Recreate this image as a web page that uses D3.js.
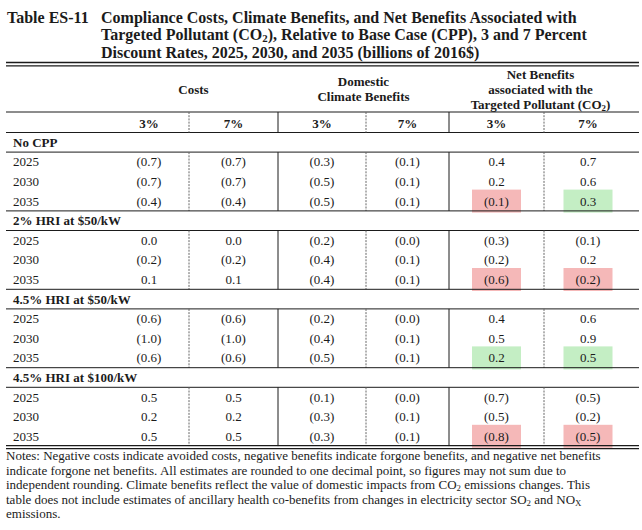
<!DOCTYPE html>
<html><head><meta charset="utf-8">
<script src="https://cdn.jsdelivr.net/npm/d3@7"></script>
<style>
html,body{margin:0;padding:0;background:#fff;}
svg{display:block;}
svg text{font-family:"Liberation Serif","Times New Roman",Times,"DejaVu Serif",serif;}
</style></head>
<body>
<svg id="c" width="642" height="530" font-family="Liberation Serif, Times New Roman, DejaVu Serif, serif"></svg>
<script>
// ---- data ----
const groups = ["No CPP", "2% HRI at $50/kW", "4.5% HRI at $50/kW", "4.5% HRI at $100/kW"];
const years = ["2025", "2030", "2035"];
const rates = ["3%", "7%"];
const costs3 = [[-0.7,-0.7,-0.4],[0.0,-0.2,0.1],[-0.6,-1.0,-0.6],[0.5,0.2,0.5]];
const costs7 = [[-0.7,-0.7,-0.4],[0.0,-0.2,0.1],[-0.6,-1.0,-0.6],[0.5,0.2,0.5]];
const climate3 = [[-0.3,-0.5,-0.5],[-0.2,-0.4,-0.4],[-0.2,-0.4,-0.5],[-0.1,-0.3,-0.3]];
const climate7 = [[-0.1,-0.1,-0.1],[-0.0,-0.1,-0.1],[-0.0,-0.1,-0.1],[-0.0,-0.1,-0.1]];
const net3 = [[0.4,0.2,-0.1],[-0.3,-0.2,-0.6],[0.4,0.5,0.2],[-0.7,-0.5,-0.8]];
const net7 = [[0.7,0.6,0.3],[-0.1,0.2,-0.2],[0.6,0.9,0.5],[-0.5,-0.2,-0.5]];
const highlightYear = "2035";
const titleLabel = "Table ES-11";
const titleLines = [
  [["Compliance Costs, Climate Benefits, and Net Benefits Associated with"]],
  [["Targeted Pollutant (CO"],["2","sub"],["), Relative to Base Case (CPP), 3 and 7 Percent"]],
  [["Discount Rates, 2025, 2030, and 2035 (billions of 2016$)"]]
];
const headerGroups = [
  {lines:[[["Costs"]]], cols:[0,1]},
  {lines:[[["Domestic"]],[["Climate Benefits"]]], cols:[2,3]},
  {lines:[[["Net Benefits"]],[["associated with the"]],[["Targeted Pollutant (CO"],["2","sub"],[")"]]], cols:[4,5]}
];
const notes = [
  [["Notes: Negative costs indicate avoided costs, negative benefits indicate forgone benefits, and negative net benefits"]],
  [["indicate forgone net benefits. All estimates are rounded to one decimal point, so figures may not sum due to"]],
  [["independent rounding. Climate benefits reflect the value of domestic impacts from CO"],["2","sub"],[" emissions changes. This"]],
  [["table does not include estimates of ancillary health co-benefits from changes in electricity sector SO"],["2","sub"],[" and NO"],["X","sub"]],
  [["emissions."]]
];

// ---- layout ----
const svg = d3.select("#c");
const ink = "#1b1b1b";
const L = 6, R = 639;
const colEdges = d3.scaleOrdinal().domain(d3.range(8)).range([L,109,189,278,366,449,544,632]);
const colCenter = i => (colEdges(i+1) + colEdges(i+2)) / 2; // i = data column 0..5
const series = [costs3, costs7, climate3, climate7, net3, net7];

function fmt(v){
  const neg = v < 0 || Object.is(v,-0);
  const s = Math.abs(v).toFixed(1);
  return neg ? "(" + s + ")" : s;
}
function rich(sel, parts, size){
  parts.forEach(p => {
    const t = sel.append("tspan").text(p[0]);
    if (p[1] === "sub") t.attr("font-size", size*0.68).attr("baseline-shift", "-22%");
  });
}
function hline(y, w){
  svg.append("line").attr("x1",L).attr("x2",R).attr("y1",y).attr("y2",y)
    .attr("stroke",ink).attr("stroke-width",w||1);
}

// title
const tSize = 16;
const titleY = d3.scaleLinear().domain([0,1]).range([22.5, 40]);
svg.append("text").attr("x",7).attr("y",titleY(0)).attr("font-size",tSize)
  .attr("font-weight","bold").attr("fill",ink).text(titleLabel);
titleLines.forEach((ln,i) => {
  const t = svg.append("text").attr("x",101).attr("y",titleY(i)).attr("font-size",tSize)
    .attr("font-weight","bold").attr("fill",ink);
  rich(t, ln, tSize);
});
hline(62.5,1.6); hline(65.8,1.2);

// header
const fs = 13;
const headY = d3.scaleLinear().domain([0,1]).range([78.5,93.5]);
headerGroups.forEach(g => {
  const cx = (colEdges(g.cols[0]+1) + colEdges(g.cols[1]+2))/2;
  const n = g.lines.length;
  const off = (3-n)/2;
  g.lines.forEach((ln,i) => {
    const t = svg.append("text").attr("x",cx).attr("y",headY(i+off)).attr("text-anchor","middle")
      .attr("font-size",fs).attr("font-weight","bold").attr("fill",ink);
    rich(t, ln, fs);
  });
});
hline(112);
series.forEach((s,i) => {
  svg.append("text").attr("x",colCenter(i)).attr("y",127.5).attr("text-anchor","middle")
    .attr("font-size",fs).attr("font-weight","bold").attr("fill",ink).text(rates[i%2]);
});
hline(132.5);

const vKinds = ["dash","solid","dash","solid","dash"];
function vlines(y1,y2){
  vKinds.forEach((k,i) => {
    const x = colEdges(i+2);
    svg.append("line").attr("x1",x).attr("x2",x).attr("y1",y1).attr("y2",y2)
      .attr("stroke", k==="dash" ? "#666" : ink).attr("stroke-width",1)
      .attr("stroke-dasharray", k==="dash" ? "2,1.2" : null);
  });
}
vlines(112,132.5);

// body rows
const groupH = 19.6, rowH = 19.6;
let y = 132.5;
const hlRed = "#f5b8b8", hlGreen = "#c4eec4";
groups.forEach((g,gi) => {
  svg.append("text").attr("x",13).attr("y",y+groupH/2+4.5).attr("font-size",fs)
    .attr("font-weight","bold").attr("fill",ink).text(g);
  y += groupH;
  hline(y);
  const blockTop = y;
  const yRow = d3.scaleBand().domain(years).range([blockTop, blockTop+rowH*3]);
  [4,5].forEach(ci => {
    years.forEach((yr,ri) => {
      if (yr !== highlightYear) return;
      const v = series[ci][gi][ri];
      const cy = yRow(yr) + yRow.bandwidth()/2;
      svg.append("rect").attr("x",colCenter(ci)-24.5).attr("y",cy-11.5)
        .attr("width",49).attr("height",23)
        .attr("fill", v < 0 || Object.is(v,-0) ? hlRed : hlGreen);
    });
  });
  years.forEach((yr,ri) => {
    const cy = yRow(yr) + yRow.bandwidth()/2;
    svg.append("text").attr("x",13).attr("y",cy+4.5).attr("font-size",fs).attr("fill",ink).text(yr);
    series.forEach((s,ci) => {
      svg.append("text").attr("x",colCenter(ci)).attr("y",cy+4.5).attr("text-anchor","middle")
        .attr("font-size",fs).attr("fill",ink).text(fmt(s[gi][ri]));
    });
  });
  y = blockTop + rowH*3;
  vlines(blockTop, y);
  if (gi < groups.length-1) hline(y);
});
hline(y-0.5,1.4); hline(y+2.5,1.4);

// notes
const noteY = d3.scaleLinear().domain([0,1]).range([y+14, y+28.5]);
notes.forEach((ln,i) => {
  const t = svg.append("text").attr("x",6).attr("y",noteY(i)).attr("font-size",fs).attr("fill",ink);
  rich(t, ln, fs);
});
</script>
</body></html>
